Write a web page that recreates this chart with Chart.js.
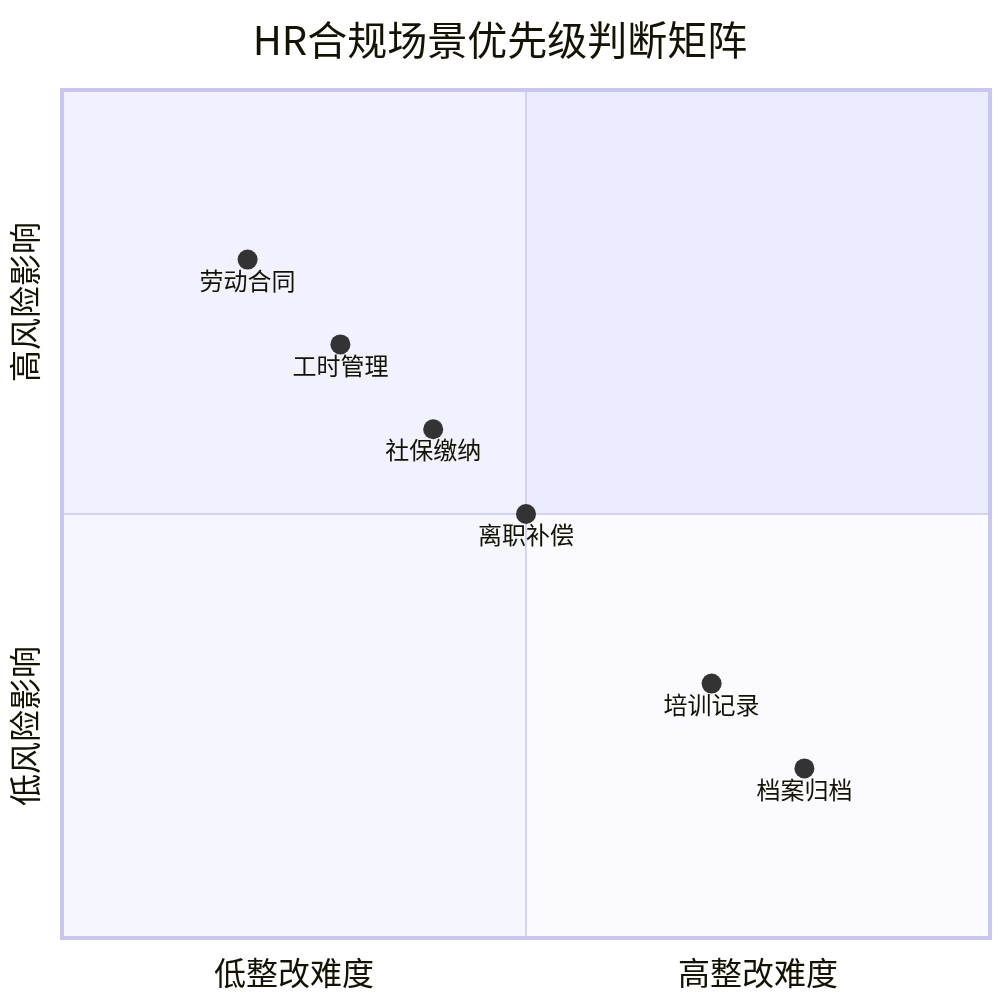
<!DOCTYPE html>
<html>
<head>
<meta charset="utf-8">
<script src="https://cdn.jsdelivr.net/npm/chart.js@4"></script>
<style>
  html, body { margin: 0; padding: 0; background: #fff; }
  #wrap { width: 1000px; height: 1000px; }
</style>
</head>
<body>
<div id="wrap"><canvas id="quadChart" width="1000" height="1000"></canvas></div>
<script>
const TITLE = 'HR合规场景优先级判断矩阵';
const POINT_NAMES = ['劳动合同', '工时管理', '社保缴纳', '离职补偿', '培训记录', '档案归档'];
const X_VALUES = [0.2, 0.3, 0.4, 0.5, 0.7, 0.8];
const Y_VALUES = [0.8, 0.7, 0.6, 0.5, 0.3, 0.2];
const X_AXIS_LABELS = ['低整改难度', '高整改难度'];
const Y_AXIS_LABELS = ['低风险影响', '高风险影响'];

const FONT = '"Noto Sans CJK SC", "Noto Sans", sans-serif';
const TEXT_COLOR = '#131300';
const BORDER_COLOR = '#c7c7f1';
const QUAD_FILLS = { q1: '#ececff', q2: '#f1f1ff', q3: '#f6f6ff', q4: '#fbfbff' };

const quadrantPlugin = {
    id: 'quadrants',
    beforeDatasetsDraw(chart) {
        const { ctx, chartArea: a, scales: { x, y } } = chart;
        const mx = x.getPixelForValue(0.5), my = y.getPixelForValue(0.5);
        ctx.save();
        ctx.fillStyle = QUAD_FILLS.q2; ctx.fillRect(a.left, a.top, mx - a.left, my - a.top);
        ctx.fillStyle = QUAD_FILLS.q1; ctx.fillRect(mx, a.top, a.right - mx, my - a.top);
        ctx.fillStyle = QUAD_FILLS.q3; ctx.fillRect(a.left, my, mx - a.left, a.bottom - my);
        ctx.fillStyle = QUAD_FILLS.q4; ctx.fillRect(mx, my, a.right - mx, a.bottom - my);
        // inner dividers
        ctx.strokeStyle = BORDER_COLOR; ctx.lineWidth = 1.5;
        ctx.beginPath();
        ctx.moveTo(mx, a.top); ctx.lineTo(mx, a.bottom);
        ctx.moveTo(a.left, my); ctx.lineTo(a.right, my);
        ctx.stroke();
        // outer border
        ctx.lineWidth = 4;
        ctx.strokeRect(a.left, a.top, a.right - a.left, a.bottom - a.top);

        // title
        ctx.fillStyle = TEXT_COLOR;
        ctx.textAlign = 'center'; ctx.textBaseline = 'middle';
        ctx.font = '40px ' + FONT;
        ctx.fillText(TITLE, chart.width / 2, 40);

        // axis labels
        ctx.font = '32px ' + FONT;
        ctx.fillText(X_AXIS_LABELS[0], (a.left + mx) / 2, a.bottom + 35);
        ctx.fillText(X_AXIS_LABELS[1], (mx + a.right) / 2, a.bottom + 35);
        [[Y_AXIS_LABELS[0], (my + a.bottom) / 2], [Y_AXIS_LABELS[1], (a.top + my) / 2]].forEach(([t, cy]) => {
            ctx.save();
            ctx.translate(a.left - 37, cy);
            ctx.rotate(-Math.PI / 2);
            ctx.fillText(t, 0, 0);
            ctx.restore();
        });
        ctx.restore();
    },
    afterDatasetsDraw(chart) {
        const { ctx } = chart;
        const meta = chart.getDatasetMeta(0);
        ctx.save();
        ctx.fillStyle = TEXT_COLOR;
        ctx.font = '24px ' + FONT;
        ctx.textAlign = 'center'; ctx.textBaseline = 'middle';
        meta.data.forEach((pt, i) => ctx.fillText(POINT_NAMES[i], pt.x, pt.y + 21));
        ctx.restore();
    }
};

new Chart(document.getElementById('quadChart').getContext('2d'), {
    type: 'scatter',
    data: {
        datasets: [{
            data: X_VALUES.map((v, i) => ({ x: v, y: Y_VALUES[i] })),
            backgroundColor: '#333333', borderWidth: 0,
            pointRadius: 10, pointHoverRadius: 10
        }]
    },
    options: {
        responsive: false, animation: false,
        layout: { padding: { left: 62, right: 10, top: 90, bottom: 62 } },
        plugins: { legend: { display: false }, tooltip: { enabled: false }, title: { display: false } },
        scales: {
            x: { min: 0, max: 1, display: false },
            y: { min: 0, max: 1, display: false }
        }
    },
    plugins: [quadrantPlugin]
});
</script>
</body>
</html>
